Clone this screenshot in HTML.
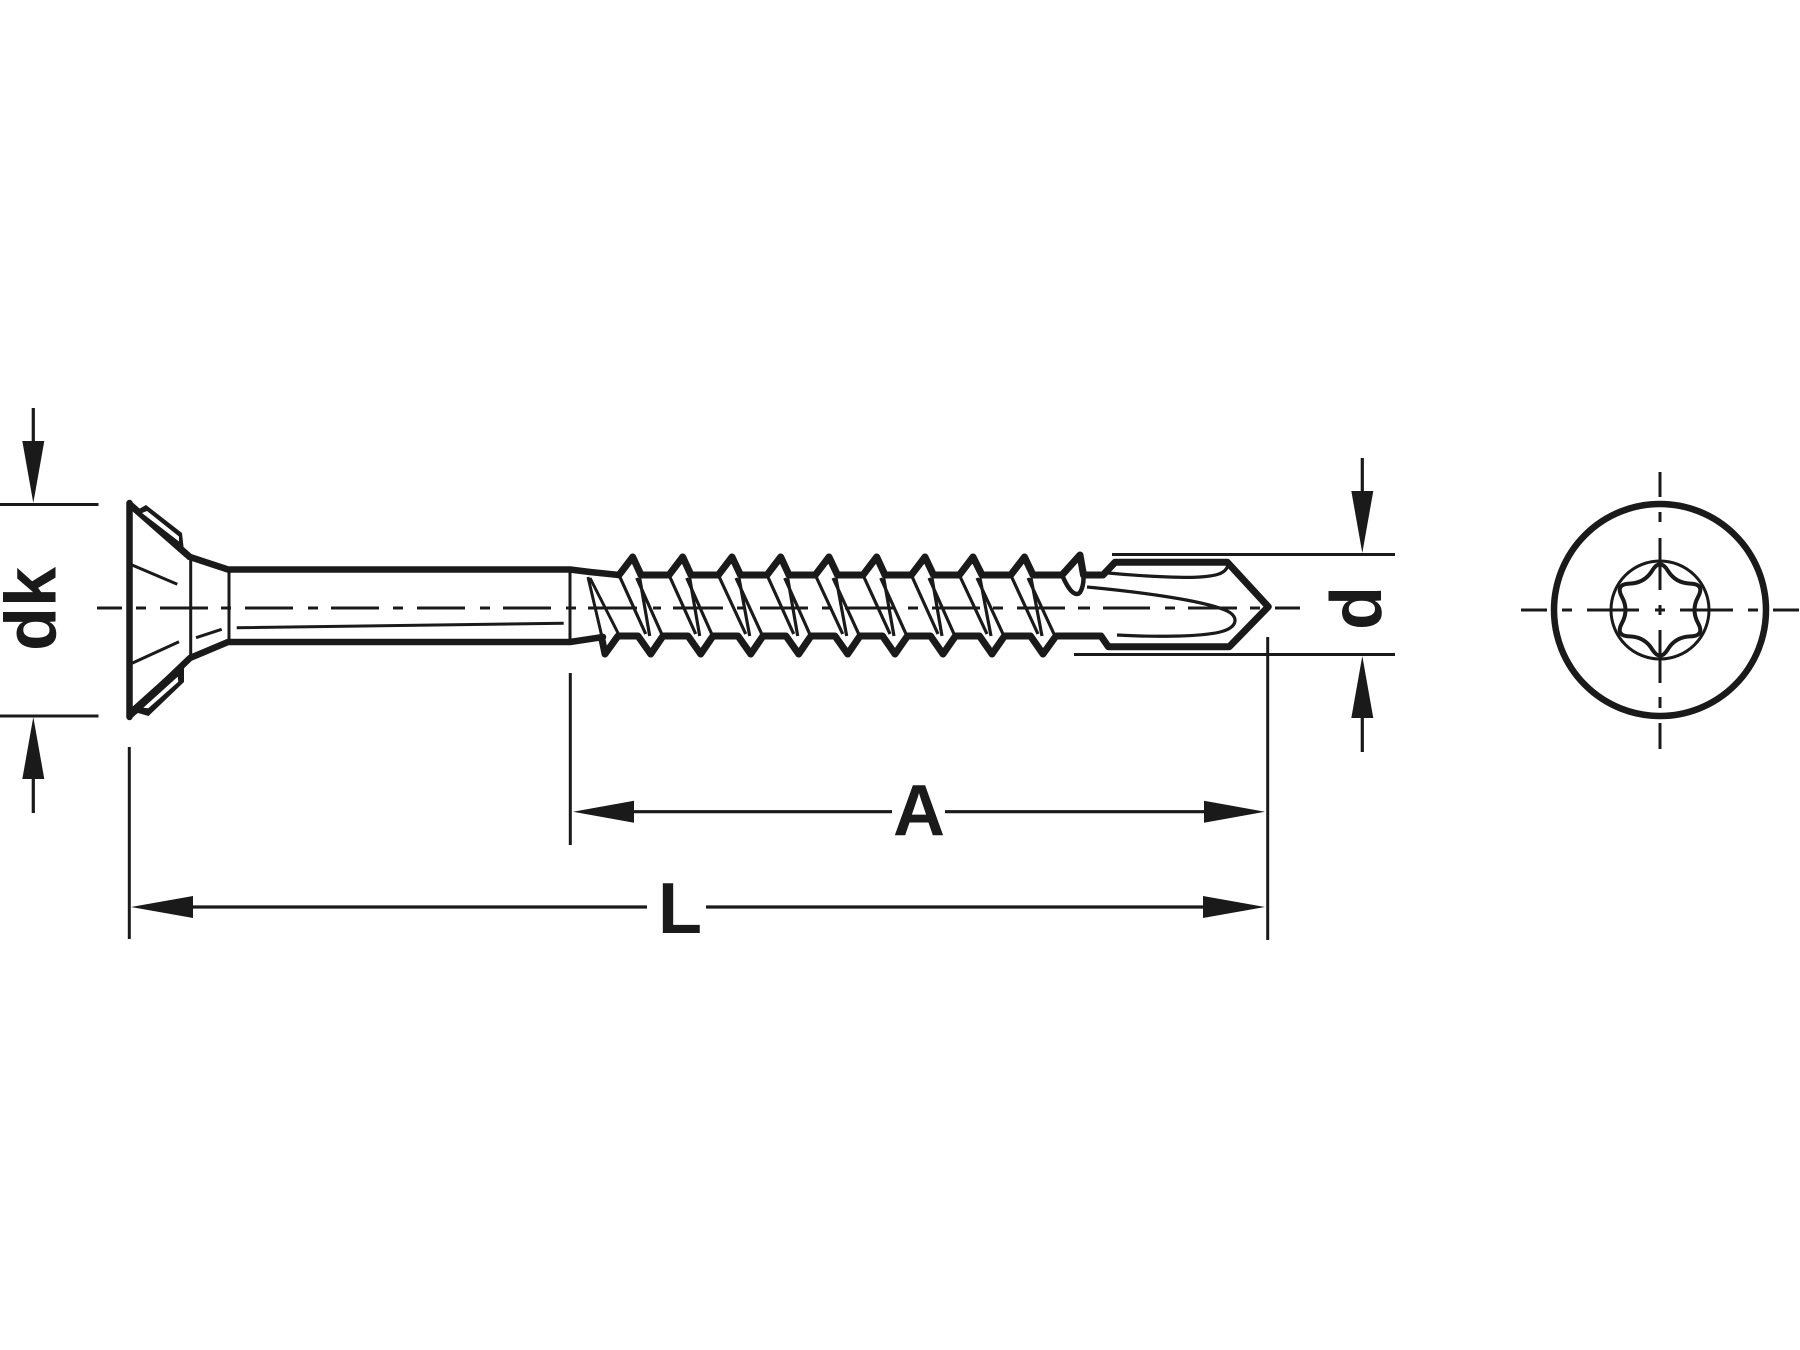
<!DOCTYPE html>
<html><head><meta charset="utf-8"><style>
html,body{margin:0;padding:0;background:#fff;width:1800px;height:1350px;overflow:hidden}
svg{display:block}
text{font-family:"Liberation Sans",sans-serif;font-weight:700;font-size:72px;fill:#1a1a1a}
</style></head><body>
<svg width="1800" height="1350" viewBox="0 0 1800 1350" xmlns="http://www.w3.org/2000/svg">
<rect width="1800" height="1350" fill="#fff"/>
<g fill="none" stroke="#1a1a1a" stroke-width="3">
<!-- center line -->
<path d="M97,608H122M136,608H146M160,608H208M221,608H231M245,608H293M308,608H318M331,608H379M393,608H403M417,608H465M480,608H490M503,608H551M566,608H576M588,608H637M653,608H661M673,608H723M737,608H745M760,608H808M822,608H832M845,608H893M908,608H918M932,608H980M993,608H1003M1017,608H1065M1078,608H1090M1103,608H1150M1165,608H1175M1188,608H1237M1250,608H1260M1275,608H1300"/>
<!-- extension lines -->
<path d="M0,504.5H98.5M0,716H98.5M129.3,747V939M570.3,673V845M1267.7,637V940M1112,554.5H1395M1074,654.5H1395"/>
<!-- dim lines -->
<path stroke-width="3.2" d="M33.3,408V445M33.3,775V813M1362.3,458V495M1362.3,714V752M630,811.7H892M945,811.7H1208M190,907H647M706,907H1207"/>
<!-- head thin -->
<path d="M190.7,557V658M229,569V642M132,565L177.3,584.3M132,663.3L179,641.7M196,637.7L221.7,629.3M236.7,627.7L563.7,623.3M570,569V642"/>
<!-- head thick -->
<path stroke-width="6.5" stroke-linejoin="round" stroke-linecap="round" d="M129.5,503V717M129.5,504L190,557L228,569.5H570L590,572L619,575M129.5,716L190,658L228,642H570L603,637"/>
<!-- thread thin -->
<path d="M588,577L602,637M590,578L618,633"/>
<path stroke-width="3.2" d="
M619,575L645.7,634M636.7,578L661.7,634M639.7,578L649.7,636
M669,575L695.7,634M686.7,578L711.7,634M689.7,578L699.7,636
M718.3,575L745.7,634M736,578L761.7,634M739,578L749.7,636
M767,575L793.7,634M784.7,578L809.7,634M787.7,578L797.7,636
M815.3,575L842.7,634M833,578L858.7,634M836,578L846.7,636
M863,575L890,634M880.7,578L906,634M883.7,578L894,636
M911.3,575L938,634M929,578L954,634M932,578L942,636
M959.3,575L987,634M977,578L1003,634M980,578L991,636
M1010.7,575L1038,634M1028,578L1054,634M1031,578L1042,636"/>
<!-- thread thick -->
<path stroke-width="7" stroke-linejoin="round" stroke-linecap="round" d="M619,575L632.7,557L641,575H669L682.7,557L691,575H718.3L732,557L740.5,575H767L780.7,557L789,575H815.3L829,557L837.5,575H863L876.7,557L885,575H911.3L925,557L933.5,575H959.3L973,557L982,575H1010.7L1024.5,557L1033,575H1062L1080,555L1083.5,575H1103L1115,562.3H1227.3L1268.3,606.7L1229.3,646.7H1108.3L1101,636H1056L1043,654L1030.5,636H1004.5L992,654L979.5,636H955.5L943,654L930.5,636H907.5L895,654L882.5,636H860L847.7,654L835,636H811L798.7,654L786,636H763L750.7,654L738,636H713L700.7,654L688,636H663L650.7,654L638,636H618L605,654L601.7,638"/>
<!-- bump -->
<path stroke-width="4.5" stroke-linejoin="round" d="M1062,575C1066,584 1071,594 1077,594C1081,594 1084,585 1083.5,575"/>
<!-- tip curves -->
<path stroke-width="3.2" d="M1108,573C1150,577 1190,578 1200,577C1215,576 1226,574 1228,565M1087,587C1140,592 1200,600 1225,610C1240,616 1238,628 1220,632C1200,637 1150,637 1117,635"/>
<!-- right view -->
<circle cx="1660" cy="610" r="106" stroke-width="6.5"/>
<circle cx="1660" cy="610" r="49" stroke-width="3"/>
<path stroke-width="4" d="M1667.75,570.58Q1675.5,583.15 1690.27,583.58Q1705.03,584 1698.02,597Q1691,610 1698.02,623Q1705.03,636 1690.27,636.42Q1675.5,636.85 1667.75,649.42Q1660,662 1652.25,649.42Q1644.5,636.85 1629.73,636.42Q1614.97,636 1621.98,623Q1629,610 1621.98,597Q1614.97,584 1629.73,583.58Q1644.5,583.15 1652.25,570.58Q1660,558 1667.75,570.58Z"/>
<path d="M1521,610H1547M1562,610H1572M1587,610H1639M1655,610H1665M1680,610H1733M1748,610H1758M1773,610H1799M1660,472V497M1660,512V522M1660,538V590M1660,605V615M1660,630V683M1660,697V708M1660,723V749"/>
</g>
<g fill="#1a1a1a">
<!-- arrowheads -->
<path d="M33.3,503L22.3,441H44.3Z"/>
<path d="M33.3,717L22.3,779H44.3Z"/>
<path d="M1362.3,553L1351.3,491H1373.3Z"/>
<path d="M1362.3,656L1351.3,718H1373.3Z"/>
<path d="M573,811.7L634,800.7V822.7Z"/>
<path d="M1265,811.7L1204,800.7V822.7Z"/>
<path d="M131,907L193,896V918Z"/>
<path d="M1265,907L1203,896V918Z"/>
<!-- head grooves -->
<path d="M131,506L139,509L146,505L182,533L184,551L192,559L188,560L131,510Z"/>
<path d="M131,708L180,664L186,660L184,669L184,682L148.5,716L138,713L131,718Z"/>
</g>
<g fill="#fff">
<path d="M142,513L147,511L179,536.5V541.5Z"/>
<path d="M143.3,707.7L148.3,708.3L178.3,681.7L177.7,676.7Z"/>
</g>
<text x="0" y="0" transform="translate(55.5,651) rotate(-90)">dk</text>
<text x="0" y="0" transform="translate(1381,630) rotate(-90)">d</text>
<text x="893" y="835">A</text>
<text x="658" y="933">L</text>
</svg>
</body></html>
